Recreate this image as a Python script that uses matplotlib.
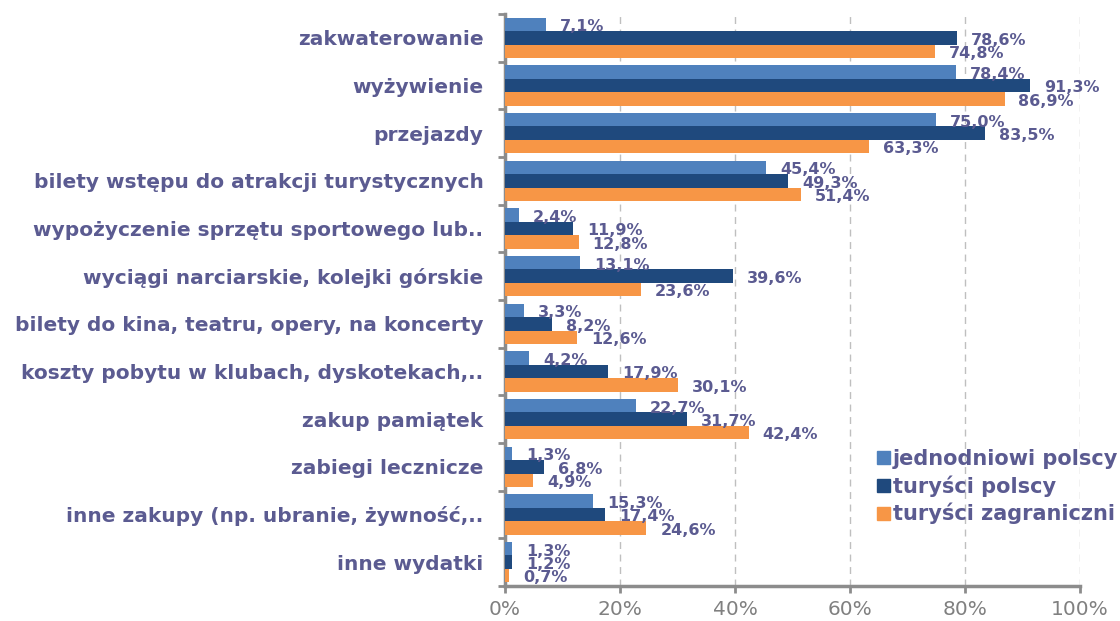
import matplotlib
matplotlib.use("Agg")
import matplotlib.pyplot as plt
import numpy as np
from matplotlib.patches import Patch

categories = ["zakwaterowanie", "wyżywienie", "przejazdy",
              "bilety wstępu do atrakcji turystycznych",
              "wypożyczenie sprzętu sportowego lub..",
              "wyciągi narciarskie, kolejki górskie",
              "bilety do kina, teatru, opery, na koncerty",
              "koszty pobytu w klubach, dyskotekach,..",
              "zakup pamiątek", "zabiegi lecznicze",
              "inne zakupy (np. ubranie, żywność,..",
              "inne wydatki"]
jednodniowi = [7.1, 78.4, 75.0, 45.4, 2.4, 13.1, 3.3, 4.2, 22.7, 1.3, 15.3, 1.3]
turysci_pl = [78.6, 91.3, 83.5, 49.3, 11.9, 39.6, 8.2, 17.9, 31.7, 6.8, 17.4, 1.2]
turysci_zagr = [74.8, 86.9, 63.3, 51.4, 12.8, 23.6, 12.6, 30.1, 42.4, 4.9, 24.6, 0.7]
series_names = ["jednodniowi polscy", "turyści polscy", "turyści zagraniczni"]
colors = ["#4F81BD", "#1F497D", "#F79646"]
xticks = [0, 20, 40, 60, 80, 100]

txt = "#5B5B91"
fig = plt.figure(figsize=(11.2, 6.21), dpi=100)
ax = fig.add_axes([505/1120, 1-586/621, 575/1120, 572/621])

n = len(categories)
y = np.arange(n)
h = 0.28
for i, (vals, col) in enumerate(zip([jednodniowi, turysci_pl, turysci_zagr], colors)):
    pos = y - h + i * h
    ax.barh(pos, vals, height=h, color=col, zorder=3)
    for p, v in zip(pos, vals):
        ax.text(v + 2.4, p + 0.05, f"{v:.1f}%".replace(".", ","), va="center", ha="left",
                fontsize=11.5, fontweight="bold", color=txt, zorder=4)

ax.set_ylim(n - 0.5, -0.5)
ax.set_xlim(0, 100)
ax.set_yticks(y)
ax.set_yticklabels(categories, fontsize=14.5, fontweight="bold", color=txt)
ax.set_yticks(np.arange(n + 1) - 0.5, minor=True)
ax.tick_params(axis="y", which="major", length=0, pad=15.5)
ax.tick_params(axis="y", which="minor", length=5, width=2, color="#8C8C8C", direction="out")
ax.set_xticks(xticks)
ax.set_xticklabels([f"{t}%" for t in xticks], fontsize=14.5, color="#808080")
ax.tick_params(axis="x", length=5, width=2, color="#8C8C8C", direction="out", pad=5)
ax.grid(axis="x", color="#BFBFBF", linestyle=(0, (5, 4)), linewidth=1, zorder=0)
for s in ["top", "right"]:
    ax.spines[s].set_visible(False)
for s in ["left", "bottom"]:
    ax.spines[s].set_color("#8C8C8C")
    ax.spines[s].set_linewidth(2.5)

handles = [Patch(color=c, label=l) for c, l in zip(colors, series_names)]
leg = fig.legend(handles=handles, loc="upper left", bbox_to_anchor=(877/1120, 1-449/621),
                 frameon=False, fontsize=15, handlelength=0.6, handleheight=0.6,
                 handletextpad=0.15, labelspacing=0.3, borderaxespad=0, borderpad=0)
for t in leg.get_texts():
    t.set_color(txt)
    t.set_fontweight("bold")

fig.savefig("out.png", dpi=100)
